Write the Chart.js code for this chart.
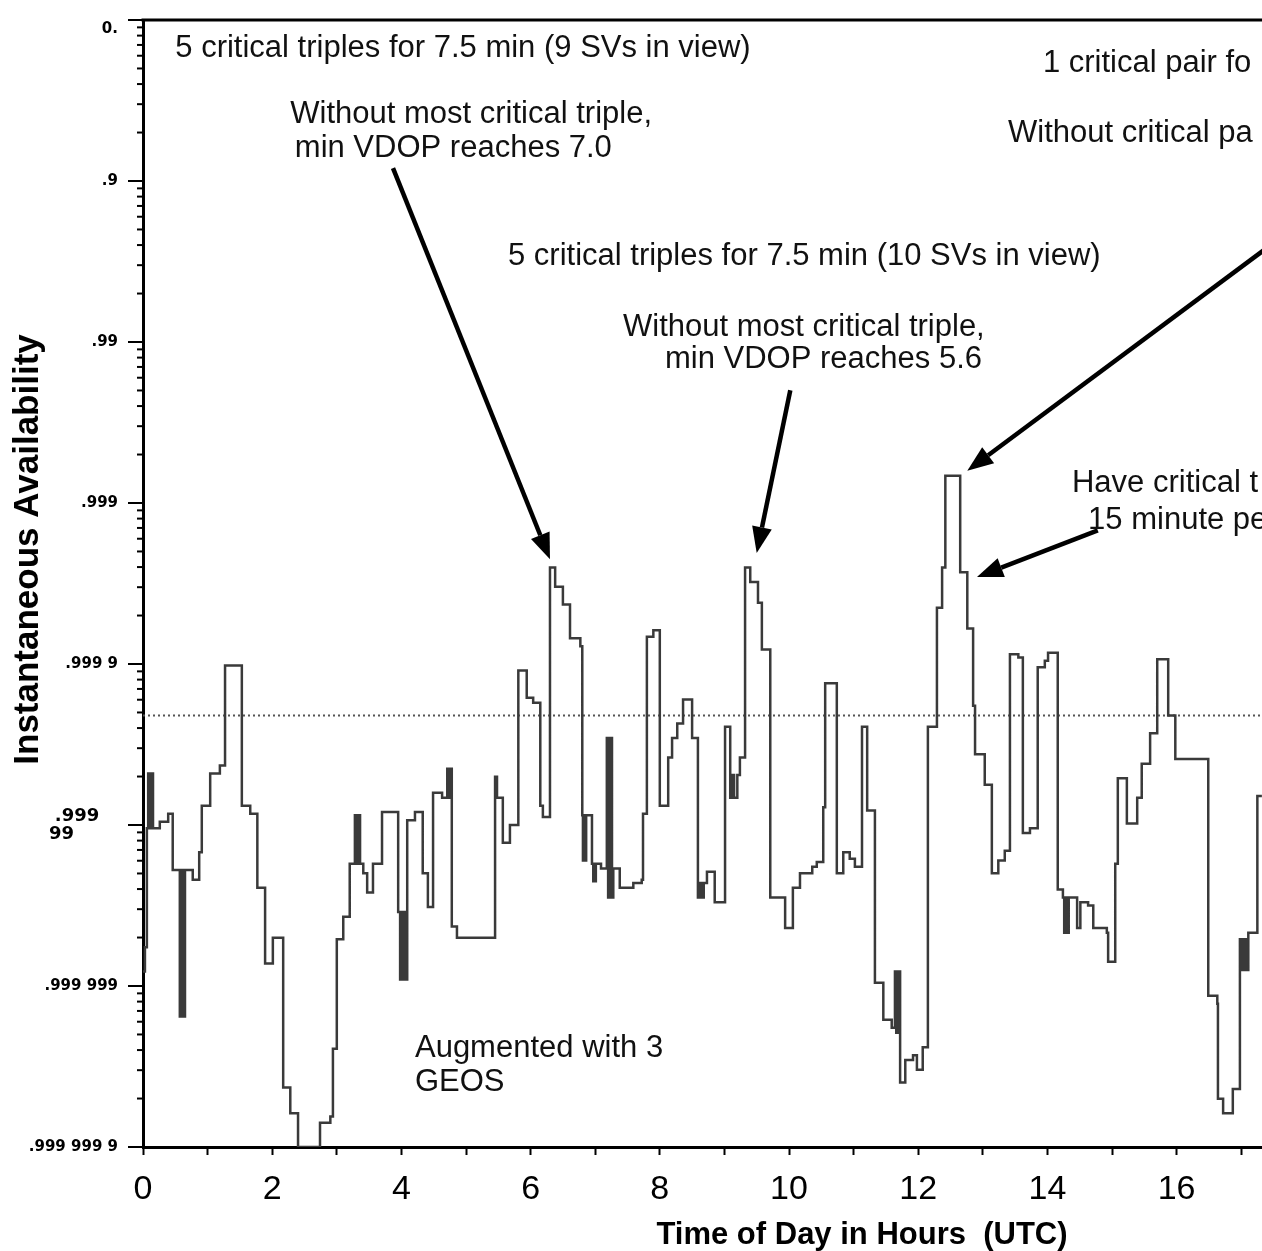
<!DOCTYPE html>
<html>
<head>
<meta charset="utf-8">
<title>Instantaneous Availability</title>
<script src="https://cdn.jsdelivr.net/npm/chart.js@4.4.1/dist/chart.umd.min.js"></script>
<style>
  html, body { margin: 0; padding: 0; background: #fff; overflow: hidden; }
  canvas { display: block; }
</style>
</head>
<body>
<canvas id="availChart" width="1581" height="1251"></canvas>
<script>
// y values are "number of nines" of availability: 0 -> 0., 3 -> .999, 7 -> .999 999 9
const hours = [
  0.00, 0.03, 0.06, 0.08, 0.09, 0.11, 0.12, 0.14, 0.155,
  0.26, 0.39, 0.46, 0.57, 0.59, 0.60, 0.62, 0.63, 0.65,
  0.77, 0.87, 0.91, 1.04, 1.19, 1.27, 1.53, 1.66, 1.77, 1.89, 2.01, 2.17, 2.28, 2.40,
  2.74, 2.90, 2.94, 3.00, 3.10, 3.20, 3.28, 3.30, 3.31, 3.33, 3.34, 3.36,
  3.41, 3.47, 3.56, 3.70, 3.95, 3.98, 3.99, 4.01, 4.03, 4.04, 4.06, 4.07, 4.09,
  4.21, 4.33, 4.41, 4.49, 4.63, 4.71, 4.72, 4.74, 4.75, 4.77, 4.78,
  4.86, 5.45, 5.48, 5.57, 5.68, 5.81, 5.94, 6.04, 6.15, 6.19,
  6.30, 6.38, 6.50, 6.61, 6.77, 6.80, 6.81, 6.83, 6.84, 6.86,
  6.95, 6.97, 6.98, 7.00, 7.01, 7.09, 7.18, 7.20, 7.21, 7.23, 7.25, 7.26, 7.28,
  7.38, 7.59, 7.72, 7.74, 7.80, 7.90, 8.00, 8.13, 8.19, 8.27, 8.36, 8.50,
  8.59, 8.61, 8.62, 8.64, 8.66, 8.68, 8.73, 8.85, 9.01, 9.09, 9.10, 9.12, 9.13, 9.15,
  9.20, 9.24, 9.32, 9.40, 9.52, 9.58, 9.71, 9.94, 10.06, 10.17, 10.36, 10.43,
  10.53, 10.56, 10.74, 10.84, 10.94, 11.02, 11.13, 11.21, 11.33, 11.46, 11.59,
  11.64, 11.66, 11.67, 11.69, 11.70, 11.72, 11.80, 11.92, 11.98, 12.07, 12.15,
  12.29, 12.37, 12.42, 12.65, 12.76, 12.85, 12.88, 13.03, 13.14, 13.24, 13.34,
  13.42, 13.55, 13.62, 13.73, 13.85, 13.96, 14.01, 14.16, 14.24,
  14.26, 14.27, 14.29, 14.30, 14.32, 14.33, 14.46, 14.51, 14.63, 14.71, 14.92, 14.94,
  15.05, 15.09, 15.23, 15.39, 15.46, 15.59, 15.70, 15.87, 15.98, 16.49, 16.63, 16.64,
  16.72, 16.87, 16.98, 17.00, 17.01, 17.03, 17.04, 17.06, 17.07, 17.09, 17.11, 17.25, 17.32
];
const nines = [
  5.91, 5.76, 5.02, 4.68, 5.02, 4.68, 5.02, 4.68, 5.02,
  4.98, 4.93, 5.28, 6.19, 5.28, 6.19, 5.28, 6.19, 5.28,
  5.34, 5.17, 4.88, 4.68, 4.63, 4.01, 4.88, 4.93, 5.39, 5.86, 5.70, 6.63, 6.79, 7.00,
  6.85, 6.81, 6.39, 5.71, 5.57, 5.24, 4.94, 5.24, 4.94, 5.24, 4.94, 5.24,
  5.30, 5.42, 5.24, 4.92, 5.54, 5.96, 5.54, 5.96, 5.54, 5.96, 5.54, 5.96, 4.97,
  4.92, 5.30, 5.51, 4.80, 4.83, 4.65, 4.83, 4.65, 4.83, 4.65, 5.63,
  5.70, 4.70, 4.83, 5.11, 5.00, 4.04, 4.21, 4.24, 4.88, 4.95,
  3.40, 3.52, 3.63, 3.84, 3.89, 4.94, 5.22, 4.94, 5.22, 4.94,
  5.24, 5.35, 5.24, 5.35, 5.24, 5.27, 4.46, 5.45, 4.46, 5.45, 4.46, 5.45, 5.27,
  5.39, 5.36, 5.34, 4.93, 3.83, 3.79, 4.88, 4.58, 4.46, 4.37, 4.22, 4.46,
  5.45, 5.36, 5.45, 5.36, 5.45, 5.36, 5.29, 5.48, 4.39, 4.83, 4.69, 4.83, 4.69, 4.83,
  4.69, 4.58, 3.40, 3.49, 3.62, 3.91, 5.45, 5.64, 5.39, 5.30, 5.26, 5.23,
  4.89, 4.12, 5.30, 5.17, 5.21, 5.26, 4.39, 4.91, 5.98, 6.21, 6.26,
  5.91, 6.29, 5.91, 6.29, 5.91, 6.60, 6.46, 6.43, 6.52, 6.38, 4.39,
  3.65, 3.40, 2.83, 3.43, 3.78, 4.26, 4.56, 4.75, 5.30, 5.22, 5.16,
  3.94, 3.96, 5.05, 5.02, 4.02, 3.98, 3.93, 5.40, 5.45,
  5.67, 5.45, 5.67, 5.45, 5.67, 5.45, 5.64, 5.48, 5.50, 5.64, 5.67, 5.85,
  5.24, 4.71, 4.99, 4.83, 4.62, 4.43, 3.97, 4.32, 4.59, 6.06, 6.11, 6.70,
  6.79, 6.64, 5.71, 5.90, 5.71, 5.90, 5.71, 5.90, 5.71, 5.90, 5.67, 4.82, 4.82
];
const thresholdNines = 4.32;

const xTickHours = [0, 1, 2, 3, 4, 5, 6, 7, 8, 9, 10, 11, 12, 13, 14, 15, 16, 17, 18, 19, 20, 21];
const xTickLabels = ['0', '2', '4', '6', '8', '10', '12', '14', '16', '18', '20'];
const yTickNines = [0, 1, 2, 3, 4, 5, 6, 7];
const yTickLabels = [['', '0.'], '.9', '.99', '.999', '.999 9', ['.999   ', '99       '], '.999 999', '.999 999 9'];

// text notes, placed in data units (hours, nines at text baseline)
const noteText = [
  '5 critical triples for 7.5 min (9 SVs in view)',
  'Without most critical triple,', 'min VDOP reaches 7.0',
  '1 critical pair fo', 'Without critical pa',
  '5 critical triples for 7.5 min (10 SVs in view)',
  'Without most critical triple,', 'min VDOP reaches 5.6',
  'Have critical t', '15 minute pe',
  'Augmented with 3', 'GEOS'
];
const noteHours = [0.50, 2.28, 2.35, 13.93, 13.39, 5.65, 7.43, 8.08, 14.38, 14.63, 4.21, 4.21];
const noteNines = [0.23, 0.64, 0.85, 0.32, 0.76, 1.52, 1.96, 2.16, 2.93, 3.16, 6.44, 6.65];

// arrows: tail -> head
const arrowFromHours = [3.87, 10.02, 17.45, 14.78];
const arrowFromNines = [0.92, 2.30, 1.40, 3.17];
const arrowToHours = [6.30, 9.50, 12.76, 12.91];
const arrowToNines = [3.35, 3.31, 2.80, 3.46];

const X_MAX = 22.26;
const SANS = "'Liberation Sans', Arial, Helvetica, sans-serif";
const NARROW = "'Liberation Sans Narrow', 'Arial Narrow', 'Liberation Sans', sans-serif";

const steps = hours.map((h, i) => ({ x: h, y: nines[i] }));

const overlay = {
  id: 'overlay',
  afterDraw(chart) {
    const { ctx, chartArea: area } = chart;
    const xs = chart.scales.x, ys = chart.scales.y;
    ctx.save();

    // top frame line
    ctx.strokeStyle = '#000';
    ctx.lineWidth = 3;
    ctx.beginPath();
    ctx.moveTo(area.left - 1.5, area.top);
    ctx.lineTo(area.right, area.top);
    ctx.stroke();

    // y ticks: long at each decade, short log minors in between
    ctx.lineWidth = 2;
    for (let d = 0; d < yTickNines.length; d++) {
      const py = ys.getPixelForValue(yTickNines[d]);
      ctx.beginPath();
      ctx.moveTo(area.left - 15, py);
      ctx.lineTo(area.left, py);
      ctx.stroke();
      if (d === yTickNines.length - 1) continue;
      for (let k = 2; k <= 9; k++) {
        const pm = ys.getPixelForValue(yTickNines[d] + 1 - Math.log10(k));
        ctx.beginPath();
        ctx.moveTo(area.left - 6, pm);
        ctx.lineTo(area.left, pm);
        ctx.stroke();
      }
    }

    // arrows
    ctx.fillStyle = '#000';
    for (let i = 0; i < arrowFromHours.length; i++) {
      const x0 = xs.getPixelForValue(arrowFromHours[i]);
      const y0 = ys.getPixelForValue(arrowFromNines[i]);
      const x1 = xs.getPixelForValue(arrowToHours[i]);
      const y1 = ys.getPixelForValue(arrowToNines[i]);
      const ang = Math.atan2(y1 - y0, x1 - x0);
      const len = 26, half = 10;
      const bx = x1 - len * Math.cos(ang), by = y1 - len * Math.sin(ang);
      ctx.lineWidth = 4.5;
      ctx.beginPath();
      ctx.moveTo(x0, y0);
      ctx.lineTo(bx, by);
      ctx.stroke();
      ctx.beginPath();
      ctx.moveTo(x1, y1);
      ctx.lineTo(bx + half * Math.sin(ang), by - half * Math.cos(ang));
      ctx.lineTo(bx - half * Math.sin(ang), by + half * Math.cos(ang));
      ctx.closePath();
      ctx.fill();
    }

    // notes
    ctx.fillStyle = '#111';
    ctx.font = '31px ' + SANS;
    ctx.textAlign = 'left';
    ctx.textBaseline = 'alphabetic';
    noteText.forEach((t, i) => {
      ctx.fillText(t, xs.getPixelForValue(noteHours[i]), ys.getPixelForValue(noteNines[i]));
    });

    ctx.restore();
  }
};

new Chart(document.getElementById('availChart'), {
  type: 'line',
  data: {
    datasets: [
      {
        data: steps,
        stepped: true,
        borderColor: '#3a3a3a',
        borderWidth: 2.5,
        pointRadius: 0,
        fill: false
      },
      {
        data: [{ x: 0, y: thresholdNines }, { x: X_MAX, y: thresholdNines }],
        borderColor: '#555',
        borderWidth: 2,
        borderDash: [2, 3],
        pointRadius: 0,
        fill: false
      }
    ]
  },
  options: {
    responsive: false,
    animation: false,
    layout: { padding: { top: 20, left: 0, right: 0, bottom: 0 } },
    plugins: {
      legend: { display: false },
      tooltip: { enabled: false }
    },
    scales: {
      x: {
        type: 'linear',
        min: 0,
        max: X_MAX,
        afterBuildTicks: (scale) => { scale.ticks = xTickHours.map(v => ({ value: v })); },
        afterFit: (scale) => {
          scale.height = 104;
          scale.paddingLeft = 0;
          scale.paddingRight = 0;
        },
        grid: { drawOnChartArea: false, drawTicks: true, tickLength: 8, tickColor: '#000', tickWidth: 2 },
        border: { display: true, color: '#000', width: 3 },
        ticks: {
          autoSkip: false,
          maxRotation: 0,
          minRotation: 0,
          padding: 18,
          color: '#000',
          font: { family: NARROW, size: 34, lineHeight: 1 },
          callback: (value) => (value % 2 === 0 ? xTickLabels[value / 2] : '')
        },
        title: {
          display: true,
          text: 'Time of Day in Hours  (UTC)',
          color: '#000',
          font: { family: SANS, size: 31, weight: 'bold', lineHeight: 1 },
          padding: { top: 0, bottom: 0 }
        }
      },
      y: {
        type: 'linear',
        reverse: true,
        min: 0,
        max: 7,
        afterBuildTicks: (scale) => { scale.ticks = yTickNines.map(v => ({ value: v })); },
        afterFit: (scale) => {
          scale.width = 143;
          scale.paddingTop = 0;
          scale.paddingBottom = 0;
        },
        grid: { display: false, drawTicks: false },
        border: { display: true, color: '#000', width: 3 },
        ticks: {
          padding: 25,
          color: '#000',
          font: (ctx) => (ctx.index === 5
            ? { family: "'DejaVu Sans', sans-serif", size: 18, weight: 'bold', lineHeight: 1.0 }
            : { family: "'DejaVu Sans', sans-serif", size: 15, weight: 'bold' }),
          callback: (value, index) => yTickLabels[index]
        },
        title: {
          display: true,
          text: '       Instantaneous Availability',
          color: '#000',
          font: { family: SANS, size: 35, weight: 'bold', lineHeight: 1 },
          padding: { top: 11, bottom: 0 }
        }
      }
    }
  },
  plugins: [overlay]
});
</script>
</body>
</html>
